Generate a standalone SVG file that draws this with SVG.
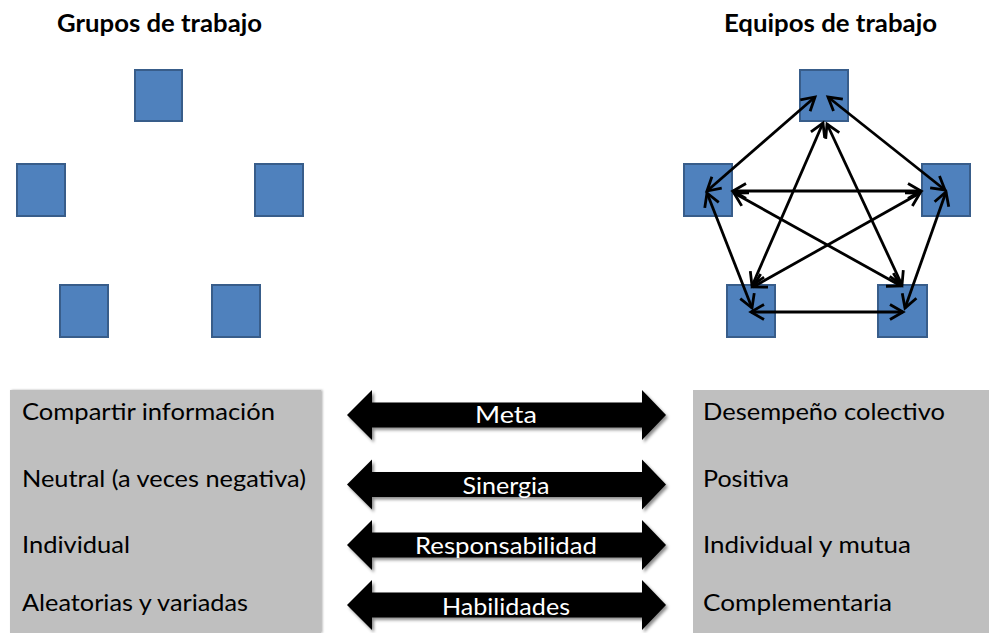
<svg xmlns="http://www.w3.org/2000/svg" width="989" height="633" viewBox="0 0 989 633">
<defs>
<style>
.sq{fill:#4f81bd;stroke:#385d8a;stroke-width:2}
.hd{font-family:Lato,"Liberation Sans",sans-serif;font-weight:bold;font-size:25px;fill:#000}
.tx{font-family:Lato,"Liberation Sans",sans-serif;font-size:24px;fill:#000}
.at{font-family:Lato,"Liberation Sans",sans-serif;font-size:24px;fill:#fff;text-anchor:middle}
.panel{fill:#bfbfbf}
.big{fill:#000;filter:url(#sh)}
.con{stroke:#000;stroke-width:2.8;fill:none;marker-start:url(#ah);marker-end:url(#ah)}
</style>
<marker id="ah" markerUnits="userSpaceOnUse" markerWidth="22" markerHeight="22" refX="0" refY="0" viewBox="-16 -11 18 22" orient="auto-start-reverse">
<path d="M-13,-7.5 L0,0 L-13,7.5" fill="none" stroke="#000" stroke-width="2.8" stroke-linejoin="miter"/>
</marker>
<filter id="sh" x="-5%" y="-30%" width="110%" height="160%">
<feDropShadow dx="2" dy="2.5" stdDeviation="1.6" flood-color="#000" flood-opacity="0.45"/>
</filter>
<filter id="psh" x="-5%" y="-5%" width="110%" height="110%">
<feDropShadow dx="1.5" dy="0" stdDeviation="1" flood-color="#000" flood-opacity="0.3"/>
</filter>
</defs>
<rect width="989" height="633" fill="#fff"/>

<text class="hd" x="57" y="32" textLength="205" lengthAdjust="spacingAndGlyphs">Grupos de trabajo</text>
<text class="hd" x="724" y="32" textLength="213" lengthAdjust="spacingAndGlyphs">Equipos de trabajo</text>

<g id="grupos">
<g id="g1"><rect class="sq" x="135" y="70" width="47" height="51"/></g>
<g id="g2"><rect class="sq" x="17" y="164" width="48" height="52"/></g>
<g id="g3"><rect class="sq" x="255" y="164" width="48" height="52"/></g>
<g id="g4"><rect class="sq" x="60" y="285" width="48" height="52"/></g>
<g id="g5"><rect class="sq" x="212" y="285" width="48" height="52"/></g>
</g>

<g id="equipos">
<g id="e1"><rect class="sq" x="800" y="70" width="48" height="51"/></g>
<g id="e2"><rect class="sq" x="684" y="164" width="48" height="52"/></g>
<g id="e3"><rect class="sq" x="922" y="164" width="48" height="52"/></g>
<g id="e4"><rect class="sq" x="727" y="285" width="48" height="52"/></g>
<g id="e5"><rect class="sq" x="878" y="285" width="49" height="52"/></g>
</g>

<g id="connectors">
<line class="con" x1="815" y1="97" x2="707" y2="191"/>
<line class="con" x1="828" y1="97" x2="945" y2="190"/>
<line class="con" x1="823" y1="123" x2="752" y2="286"/>
<line class="con" x1="827" y1="124" x2="902" y2="285"/>
<line class="con" x1="733" y1="191" x2="921" y2="191"/>
<line class="con" x1="734" y1="193" x2="901" y2="286"/>
<line class="con" x1="920" y1="193" x2="753" y2="287"/>
<line class="con" x1="707" y1="193" x2="752" y2="308"/>
<line class="con" x1="946" y1="192" x2="905" y2="308"/>
<line class="con" x1="751" y1="312" x2="903" y2="312"/>
</g>

<g id="panel-left">
<rect class="panel" x="10" y="390" width="311" height="243" filter="url(#psh)"/>
<text class="tx" x="22" y="420" textLength="253" lengthAdjust="spacingAndGlyphs">Compartir información</text>
<text class="tx" x="22" y="487" textLength="284" lengthAdjust="spacingAndGlyphs">Neutral (a veces negativa)</text>
<text class="tx" x="22" y="553" textLength="108" lengthAdjust="spacingAndGlyphs">Individual</text>
<text class="tx" x="22" y="611" textLength="226" lengthAdjust="spacingAndGlyphs">Aleatorias y variadas</text>
</g>

<g id="panel-right">
<rect class="panel" x="693" y="390" width="296" height="243"/>
<text class="tx" x="703" y="420" textLength="242" lengthAdjust="spacingAndGlyphs">Desempeño colectivo</text>
<text class="tx" x="703" y="487" textLength="86" lengthAdjust="spacingAndGlyphs">Positiva</text>
<text class="tx" x="703" y="553" textLength="208" lengthAdjust="spacingAndGlyphs">Individual y mutua</text>
<text class="tx" x="703" y="611" textLength="189" lengthAdjust="spacingAndGlyphs">Complementaria</text>
</g>

<g id="arrow-meta">
<path class="big" d="M347,415 L372,390 L372,402.5 L642,402.5 L642,390 L666,415 L642,440 L642,427.5 L372,427.5 L372,440 Z"/>
<text class="at" x="506" y="423" textLength="62" lengthAdjust="spacingAndGlyphs">Meta</text>
</g>
<g id="arrow-sinergia">
<path class="big" d="M347,484.5 L372,459.5 L372,472 L642,472 L642,459.5 L666,484.5 L642,509.5 L642,497 L372,497 L372,509.5 Z"/>
<text class="at" x="506" y="494" textLength="87" lengthAdjust="spacingAndGlyphs">Sinergia</text>
</g>
<g id="arrow-responsabilidad">
<path class="big" d="M347,545 L372,520 L372,532.5 L642,532.5 L642,520 L666,545 L642,570 L642,557.5 L372,557.5 L372,570 Z"/>
<text class="at" x="506" y="554" textLength="182" lengthAdjust="spacingAndGlyphs">Responsabilidad</text>
</g>
<g id="arrow-habilidades">
<path class="big" d="M347,605 L372,580 L372,592.5 L642,592.5 L642,580 L666,605 L642,630 L642,617.5 L372,617.5 L372,630 Z"/>
<text class="at" x="506" y="615" textLength="128" lengthAdjust="spacingAndGlyphs">Habilidades</text>
</g>
</svg>
